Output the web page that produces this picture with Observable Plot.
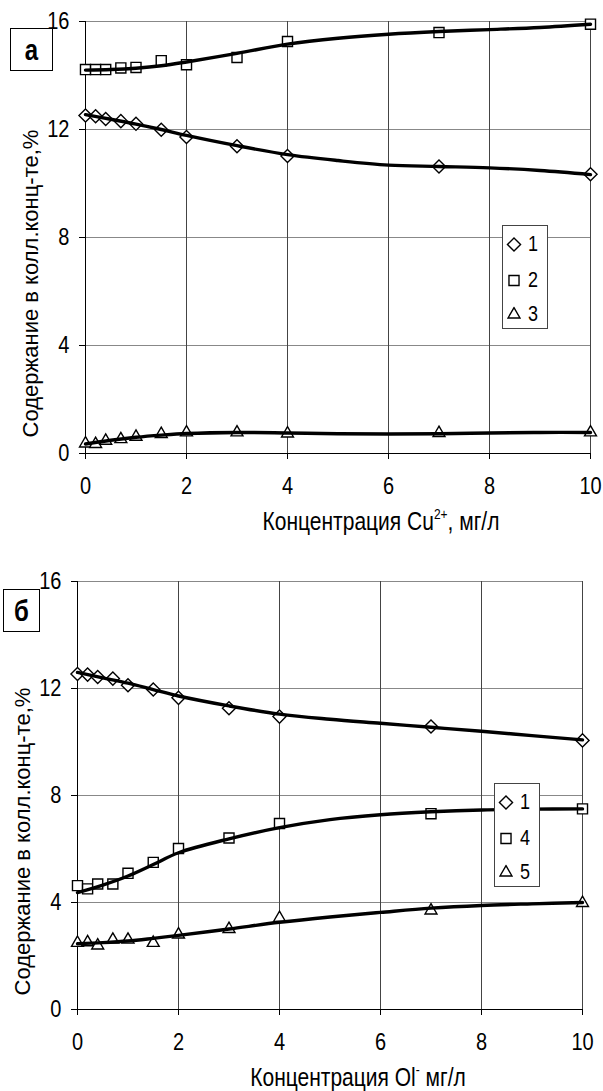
<!DOCTYPE html>
<html><head><meta charset="utf-8">
<script src="https://cdn.jsdelivr.net/npm/d3@7"></script>
<script src="https://cdn.jsdelivr.net/npm/@observablehq/plot@0.6"></script>
<style>
body{margin:0;background:#fff;font-family:"Liberation Sans",Arial,sans-serif;color:#000;}
#wrap{position:relative;width:603px;height:1091px;overflow:hidden;background:#fff;}
.panel{position:absolute;left:0;}
.tag{position:absolute;border:1px solid #000;background:#fff;font-weight:bold;font-size:24px;display:flex;align-items:center;justify-content:center;box-sizing:border-box;}
.tag span{display:inline-block;transform:scaleY(1.2);}
.xt{position:absolute;font-size:21px;white-space:nowrap;line-height:1;transform:translate(-50%,-50%) scaleY(1.2);}
.xt sup{font-size:12px;vertical-align:0;position:relative;top:-9px;}
.legend{position:absolute;border:1px solid #444;background:#fff;box-sizing:border-box;}
.legend .it{position:absolute;left:0;display:flex;align-items:center;font-size:18px;transform:translateY(-50%);}
.legend .it span{display:inline-block;transform:scaleY(1.2);}
</style></head><body><div id="wrap"></div>
<script>
// shared x values (concentration, mg/l)
const conc = [0, 0.2, 0.4, 0.7, 1, 1.5, 2, 3, 4, 7, 10];
// panel а (Cu2+) measured points
const a1 = [12.52, 12.49, 12.39, 12.31, 12.21, 11.99, 11.72, 11.38, 11.02, 10.63, 10.34];
const a2 = [14.22, 14.22, 14.22, 14.28, 14.30, 14.55, 14.40, 14.67, 15.26, 15.59, 15.90];
const a3 = [0.37, 0.35, 0.47, 0.53, 0.62, 0.72, 0.78, 0.78, 0.74, 0.76, 0.78];
// panel б (Ol-) measured points
const b1 = [12.54, 12.52, 12.43, 12.37, 12.12, 11.96, 11.65, 11.26, 10.95, 10.58, 10.06];
const b4 = [4.63, 4.51, 4.69, 4.69, 5.09, 5.50, 6.02, 6.41, 6.95, 7.32, 7.50];
const b5 = [2.49, 2.51, 2.39, 2.61, 2.61, 2.49, 2.80, 3.01, 3.42, 3.70, 3.98];
// smoothed trend curves
const trendX = [0, 0.5, 1, 1.5, 2, 3, 4, 5, 6, 7, 8, 9, 10];
const ta1 = [12.55, 12.38, 12.2, 12.0, 11.78, 11.4, 11.07, 10.85, 10.68, 10.63, 10.58, 10.48, 10.33];
const ta2 = [14.2, 14.22, 14.27, 14.36, 14.5, 14.82, 15.16, 15.38, 15.53, 15.63, 15.7, 15.78, 15.9];
const ta3 = [0.35, 0.49, 0.6, 0.68, 0.74, 0.78, 0.76, 0.73, 0.72, 0.73, 0.76, 0.78, 0.78];
const tb1 = [12.6, 12.4, 12.2, 11.96, 11.72, 11.35, 11.04, 10.85, 10.7, 10.55, 10.4, 10.24, 10.08];
const tb4 = [4.37, 4.65, 4.99, 5.42, 5.86, 6.38, 6.8, 7.1, 7.28, 7.39, 7.46, 7.49, 7.5];
const tb5 = [2.46, 2.5, 2.56, 2.66, 2.77, 3.01, 3.26, 3.46, 3.63, 3.79, 3.89, 3.95, 4.0];
// ticks
const xTicks = [0, 2, 4, 6, 8, 10];
const yTicks = [0, 4, 8, 12, 16];
const yTitle = "Содержание в колл.конц-те,%";

const sym = {diamond: {name: "diamond2", r: 5.9, d3: d3.symbolDiamond2},
             square: {name: "square2", r: 6.4, d3: d3.symbolSquare2},
             triangle: {name: "triangle2", r: 5.7, d3: d3.symbolTriangle2}};

const toRows = (xs, ys) => xs.map((x, i) => ({x, y: ys[i]}));

function panel({series, H, mt, mb, ml, mr}) {
  const marks = [
    Plot.gridY(yTicks, {stroke: "#888", strokeOpacity: 1}),
    Plot.gridX(xTicks, {stroke: "#444", strokeOpacity: 1}),
    Plot.ruleY([0], {stroke: "#000"}),
    Plot.ruleX([0], {stroke: "#000"}),
    Plot.axisX(xTicks, {tickSize: 6, tickPadding: 18, fontSize: 20, label: null, stroke: "#000"}),
    Plot.axisY(yTicks, {tickSize: 6, tickPadding: 10, fontSize: 20, label: null, stroke: "#000"})
  ];
  for (const s of series) {
    marks.push(Plot.dot(toRows(conc, s.pts), {x: "x", y: "y", symbol: sym[s.sym].name, r: sym[s.sym].r,
      fill: "white", stroke: "black", strokeWidth: 1.4}));
  }
  for (const s of series) {
    marks.push(Plot.line(toRows(trendX, s.trend), {x: "x", y: "y", curve: "catmull-rom",
      stroke: "black", strokeWidth: 3.4}));
  }
  marks.push(Plot.text([yTitle], {text: d => d, frameAnchor: "left", dx: -55, dy: 46, rotate: -90,
    textAnchor: "middle", lineAnchor: "middle", fontSize: 22}));
  const svg = Plot.plot({
    width: 603, height: H, marginTop: mt, marginBottom: mb, marginLeft: ml, marginRight: mr,
    style: {fontFamily: "'Liberation Sans', Arial, sans-serif", background: "transparent", color: "#000", overflow: "visible"},
    x: {domain: [0, 10]}, y: {domain: [0, 16]},
    marks
  });
  // the reference's lettering is taller than wide: stretch the tick labels vertically
  svg.querySelectorAll('g[aria-label="x-axis tick label"] text, g[aria-label="y-axis tick label"] text').forEach(t => {
    t.setAttribute("transform", (t.getAttribute("transform") || "") + " scale(1,1.18)");
  });
  return svg;
}

const wrap = document.getElementById("wrap");
function place(node, top) {
  node.classList.add("panel");
  node.style.top = top + "px";
  wrap.appendChild(node);
}
place(panel({H: 545, mt: 21, mb: 92, ml: 85, mr: 13, series: [
  {pts: a1, trend: ta1, sym: "diamond"}, {pts: a2, trend: ta2, sym: "square"}, {pts: a3, trend: ta3, sym: "triangle"}]}), 0);
place(panel({H: 546, mt: 36, mb: 82, ml: 77, mr: 21, series: [
  {pts: b1, trend: tb1, sym: "diamond"}, {pts: b4, trend: tb4, sym: "square"}, {pts: b5, trend: tb5, sym: "triangle"}]}), 545);

function tag(text, l, t, w, h) {
  const d = document.createElement("div");
  d.className = "tag"; d.innerHTML = `<span>${text}</span>`;
  Object.assign(d.style, {left: l + "px", top: t + "px", width: w + "px", height: h + "px"});
  wrap.appendChild(d);
}
tag("а", 10, 28, 43, 43);
tag("б", 3, 589, 37, 43);

function xtitle(html, cx, cy) {
  const d = document.createElement("div");
  d.className = "xt"; d.innerHTML = html;
  Object.assign(d.style, {left: cx + "px", top: cy + "px"});
  wrap.appendChild(d);
}
xtitle("Концентрация Cu<sup>2+</sup>, мг/л", 381, 521);
xtitle("Концентрация Ol<sup>-</sup> мг/л", 358, 1077);

function legend(l, t, items) {
  const box = document.createElement("div");
  box.className = "legend";
  Object.assign(box.style, {left: l + "px", top: t + "px", width: "46px", height: "104px"});
  items.forEach(([s, lab], i) => {
    const it = document.createElement("div");
    it.className = "it";
    it.style.top = [18, 54, 88][i] + "px";
    const size = Math.PI * sym[s].r * sym[s].r;
    it.innerHTML = `<svg width="24" height="16" viewBox="-12 -8 24 16"><path d="${d3.symbol(sym[s].d3, size)()}" fill="white" stroke="black" stroke-width="1.4"/></svg><span style="margin-left:2px">${lab}</span>`;
    it.style.left = "-1px";
    box.appendChild(it);
  });
  wrap.appendChild(box);
}
legend(502, 225, [["diamond", "1"], ["square", "2"], ["triangle", "3"]]);
legend(494, 783, [["diamond", "1"], ["square", "4"], ["triangle", "5"]]);
</script></body></html>
